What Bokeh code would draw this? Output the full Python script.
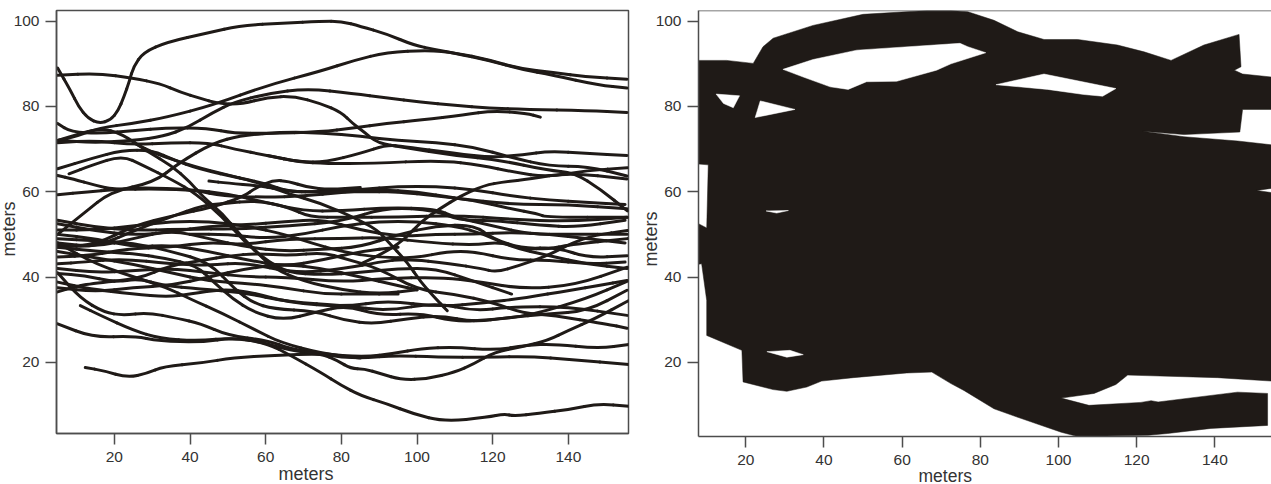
from bokeh.embed import file_html
from bokeh.resources import INLINE
from bokeh.plotting import figure
from bokeh.layouts import row
from bokeh.models import FixedTicker, Title, Span

X_TICKS = [20, 40, 60, 80, 100, 120, 140]
Y_TICKS = [20, 40, 60, 80, 100]
AXIS_TITLE = "meters"

a_x = [5,8.4,10.5,13,16,19,21,22.5,24,25,27.7,34,44.6,53.4,64.8,74.6,80,85,92,99,105,110,119,127.6,136,148,155.5]
a_y = [89,83.8,80,77.2,76,76.8,79,82.2,86,89.3,92.7,95.1,97.2,99,99.5,100,100,98.8,97,94.4,93.3,92.5,90.8,88.7,87.3,85,84.3]
b_x = [5,15.6,25,32,37.5,42.8,47.2,53.5,60.5,67.5,74.6,80,83,86,89.6,96.5,110,122,134.5,141.5,148.6,155.6]
b_y = [87.3,87.8,86.6,85.4,83.3,81.9,80.7,80.5,82.2,82.4,80.7,78.6,76,74,71.4,70.4,68.5,67.4,65,64.5,60.5,55.5]
c_x = [5,10,16,25,34,46,60.5,74.6,83.3,92,103,110,119,127,136,145,155.5]
c_y = [72,73,75,76,77.5,80.3,85,88.3,90.8,92.7,93.2,92.6,90.9,88.9,88,86.9,86.4]
d_x = [5,12,19,30.5,37,46,53.5,65,75,85,95,105,115,125,135,145,155.5]
d_y = [50,55,60,62.2,66.7,71.4,73.2,74,73.8,73,72,71.5,70.5,68,66,66,63.7]
e_x = [5,8.5,16.5,25,34,44.7,51.6,60.5,74.6,83,92,101,112.5,120,129,132.6]
e_y = [76,74,73.7,74.3,75,74.9,73.7,73.7,74,74.9,76,76.8,78,79,78.4,77.5]
f_x = [5,15,25,33,39.4,46,51.6,60.5,71,83,92,101,110,119,129,145,155.5]
f_y = [72,71.5,72,73,75,78.6,81,83,84.2,83,82,81,80.3,79.6,79.3,79,78.6]
g_x = [5,15,25,35,45,51.6,60.5,69,76,85,92,96.5,110,120,128,135,145,155.5]
g_y = [71.5,72,71,71.5,71.5,70,68.5,67,67,69,71,70.6,69,68,68.7,69.5,69,68.5]
h_x = [60.5,69,76,88,106,117,125.6,134.5,145,155.6]
h_y = [68.5,67,66.6,66.6,67.4,66.2,64.6,63.4,65,65.6]
i_x = [5,14,22,30,36,42,54,60,66,75,85,95,105,115,125,135,145,155]
i_y = [65.4,67.8,69.7,69.7,67.4,65.4,63,61.9,60,60,60.5,61.2,61.2,60.5,59,58,57.5,57]
j_x = [8,14,22,27.5,35.5,41.6,48.7,54,60,66,75,85,95,105,115,125]
j_y = [64.2,66.2,68.5,66.2,62.7,59.5,54,48.6,44,41,40.5,41,42,42,39,36]
k_x = [5,9,15,20,31,41.6,48.7,60,70,80,90,100,110,125,140,155.5]
k_y = [63.8,63,61.5,60.5,60.7,60.3,59,58.7,59,59.8,60.5,60,58.5,57,57,56]
l_x = [5,13,20,27.5,40,50,60,70,80,92,105,110,120,130,140,155.5]
l_y = [59.3,60,60.5,61,60.5,59.5,57.5,55.5,55.5,56.3,56,54,52,50,50,50]
m_x = [45,50,58,63,67,72,77,85,95]
m_y = [62.5,62,61.4,60.7,60,60,60,60,60]
n_x = [5,15,25,36,46,54,57.5,62,66,71,77,85]
n_y = [47,47.5,52,54.5,56.4,58.8,61,62.7,62.5,61,60.5,61]
o_x = [5,15,27,34.6,43.4,48.7,57.5,66,71.6,81,95,110,125,140,155.5]
o_y = [47.5,47,51.5,54,56.8,57.2,58,56.4,54,54,54,54.5,53.5,53,54]
p_x = [5,16,22,29,35,40,43.4,48.7,53,58,62,70,80,90,100]
p_y = [72,75,73.6,69.3,66.2,62.3,58.8,54.8,50.1,45.5,42,39,37,36,37]
q_x = [25,31,41.6,48.7,57.5,66,74.6,83.3,89.6,92,97.4,101,104.5,108]
q_y = [71.5,68.8,65.8,64.2,62.3,59.5,57.3,54,51,48.6,43.5,38.8,35.3,32.1]
rr_x = [85,92,97,101,106,111.5,117.7,123,130,140,155.5]
rr_y = [43,46,49,53,56,59,61.5,62.3,63,64.5,63]
i2_x = [80,95,105,115,124.8,131.8,134.5,155.6]
i2_y = [60.5,60,59,58,56,54.8,54,54]

s_x = [11,16.3,25,32,42,51.6,60.5,66.6,74.6,80,85,92,99,107.2,118.7,123,125.7,132,140.7,147.8,156]
s_y = [33.3,31,27.5,25.6,25,25.8,24.4,21.6,17.6,14.6,12.2,10.3,7.9,6.1,7.1,7.9,7.4,8,9,10.3,9.7]
t_x = [12.3,17.3,23.4,28.7,33,42.8,51.6,62.2,74.6,80,86,94,105.4,118.7,130,140.7,156]
t_y = [18.8,18,16.4,17.4,19,19.8,21.1,21.6,22,21.2,21,21.6,21.2,21.2,21.4,20.6,19.5]
u_x = [5,14.5,25,32,42.8,51.6,60,66.6,74.6,79,82.5,86,90.5,95.8,102.8,110,115,120.5,127.5,134.6,140,147,156]
u_y = [29,25.8,26.2,25,24.7,25.8,24.5,22.7,22,20.4,18.5,18.5,17.3,15.9,16.1,17.7,19.6,22.4,23.6,25.1,27.5,30.2,34.5]
v_x = [5,11,17.3,22.4,28.7,36.7,42.8,49.9,60.5,66.6,74.6,86,94,101,110,120.5,129,136,148,156]
v_y = [41,35,31.7,31,31.7,30.3,29.1,26.3,25.1,23.2,22,21.2,22.1,23.2,23.6,22.8,24,24.3,23.2,24.2]
aa_x = [5,15,26.6,33.7,39.9,48.7,57.5,63.7,75,85]
aa_y = [48,43,39.6,37.6,34.9,31.4,27.5,24.7,22,21]
m1_x = [5,14,23,35,45,54,66,80,91,104,115,122,128,135,140,155.6]
m1_y = [44.7,45,46.6,47,48.2,47.5,49,49,49.3,48,47.5,48.2,46.6,46.6,47.5,49]
m2_x = [5,12,22,35,46,54,68,81,90,97,109,117,121,127,134.5,141.5,147,155.6]
m2_y = [43.1,43.5,44.3,43.1,42.7,43.5,40.8,42,43.5,44.3,43.1,42,41.1,42.7,45,48.2,49.8,50.9]
m3_x = [5,12,20,26.6,33,42.5,54,66,81,92,105,115,125,140,155.5]
m3_y = [40.8,40.4,38.8,39.6,38,37.2,36.4,34.1,33.3,32,34,32,33,33,31]
m4_x = [5,9,13.4,26.6,34.6,43.4,50.5,57.5,66.4,75,81,90,100,110,120,128,136,150,155.5]
m4_y = [36.5,37.6,38.4,39.6,42.7,43.9,45,45.5,45,45.8,44.3,42,37,36,34,31.5,31,29,28]
m5_x = [5,13.4,25,34,40,48.7,56.6,66,81,92,106,118,128,141,148,155.5]
m5_y = [38.8,37.2,36,35.3,36,37.2,36.4,34,33,34.5,33,34,35,37,38,39.2]
m6_x = [5,15,25,33,41.6,46,51.3,56.6,64.6,73.4,81.3,90,101,110,120,130,145,155.5]
m6_y = [47,46,45.5,44.5,42.7,39,34.9,31.8,29.8,31.8,33.3,31,31.5,29.5,30,31,35,39]
m7_x = [5,15,25,35,45,52,56.6,62,73,81,88.6,97.4,106,115,124,134.6,145,155.5]
m7_y = [49,48.5,48,46,43.5,37,34,32.5,32,29.8,29,30.2,31,29.4,30.5,31.3,32,36.9]
m9_x = [5,15,25,35,45,55,65,79.8,91,106,117,128,141.5,155.6]
m9_y = [42,41,41.5,42,41,40,40,38.8,39.6,40,38.8,37.2,38,42.3]
m10_x = [5,15,25,35,45,55,65,72,79.8,90,100,108,115,125,135,145,155]
m10_y = [51,51,52,53,53,52,50,48,46,44.5,44.5,46,46,44,44,43,43.5]
m11_x = [5,15,25,35,45,55,65,75,85,95,105,115,120,128,137,145,155.5]
m11_y = [48,47,49,51,49,47,46,46.5,47,50,52,52.3,49,46.6,47,44.5,45]
m12_x = [5,15,25,37,54,66,80,92,105,111,120,133,142,155]
m12_y = [53.3,51.7,50.9,51.2,51.3,52,53,56.4,55.6,53.3,53.3,52.1,51.7,53.3]
m13_x = [5,15,25,35,45,55,65,75,85,95,105,115,125,135,145,155]
m13_y = [52.5,50.8,49.8,50.5,52,52.2,53,53.5,51,49.5,50,50,50.5,50,49,48]
m14_x = [5,15,25,35,45,55,65,75,85,95,100]
m14_y = [37.5,36.5,37.5,38,40,42,43,42,40,38,37]
m15_x = [40,50,60,70,80,90,100,110,118,125,135,145,155.5]
m15_y = [50,50,49,50,52,53,53,52,50,47,45,43,42]
m16_x = [5,15,25,35,45,55,65,75,85,95]
m16_y = [46,44.5,43,41,39,38.5,37.5,36,36,36]
m17_x = [5,15,25,35,45,55,65,75,85,95]
m17_y = [50,49,47,47.5,46,44,42.5,44,46,47]

TRACKS = [(a_x,a_y),(b_x,b_y),(c_x,c_y),(d_x,d_y),(e_x,e_y),(f_x,f_y),(g_x,g_y),(h_x,h_y),
          (i_x,i_y),(j_x,j_y),(k_x,k_y),(l_x,l_y),(m_x,m_y),(n_x,n_y),(o_x,o_y),(p_x,p_y),
          (q_x,q_y),(rr_x,rr_y),(i2_x,i2_y),(s_x,s_y),(t_x,t_y),(u_x,u_y),(v_x,v_y),(aa_x,aa_y),
          (m1_x,m1_y),(m2_x,m2_y),(m3_x,m3_y),(m4_x,m4_y),(m5_x,m5_y),(m6_x,m6_y),(m7_x,m7_y),
          (m9_x,m9_y),(m10_x,m10_y),(m11_x,m11_y),(m12_x,m12_y),(m13_x,m13_y),(m14_x,m14_y),(m15_x,m15_y),
          (m16_x,m16_y),(m17_x,m17_y)]

# right panel: outline of the covered area and the uncovered gaps inside it
cover_x = [7.9,15.1,21.9,24.4,27,37.2,50,66.4,72.5,76.8,83.5,89.6,96.3,104.9,115.1,121.9,128.8,137.2,146.2,146.7,145,147.1,154.5,
           154.5,147.1,146.4,132.1,121.5,132.1,145.8,154.5,154.5,150.7,154.5,
           154.5,140.7,117.7,114.7,109.1,100.7,107.8,121.1,123.7,125.5,145.8,153.5,153.5,139,127.9,123,104.9,100.7,89.6,83.5,75.8,72.5,
           67.6,61.2,47.5,39.4,35.6,30.5,27,19.3,19,10,10,8.7,7.9,7.9,10,10.4,7.9]
cover_y = [90.8,90.8,90.1,94,96,99,101.6,102.5,102.5,102.2,100.2,97.5,95.7,95.7,94.4,92.8,90.8,94.4,96.9,89.3,88.5,87.6,86.9,
           79.3,79.3,74,73.4,74.2,72.9,71.9,71,60.8,60.3,59.8,
           15.6,16.4,17,14.8,12.7,11.6,9.9,10.6,11,10.7,13,12.7,5.2,4.5,3.3,2.9,2.6,3.6,7.1,9.1,13.4,15,
           17.7,17.5,16.4,15.6,14.2,13.2,13.6,15.4,22.8,26.3,34.5,43.1,43,52.5,51.5,66.3,66.5]
gap1_x = [12.4,18.4,16.8,14.3]
gap1_y = [82.9,82.5,79.7,80.7]
gap2_x = [23.7,32.6,22.4]
gap2_y = [81.3,79.3,77.4]
gap3_x = [29.5,37.2,48.4,74.8,76.8,81.4,72.5,68.8,58.6,50.9,46.2,41.6,34.7]
gap3_y = [88.7,91,93.2,94.8,94,92.6,90,88.5,85.9,85.8,84,84.6,86.9]
gap4_x = [84,96.3,114.7,111.3,106.5,97.2]
gap4_y = [85.1,87.6,84.2,82.4,82.8,84]
gap5_x = [25.2,30.9,27.9]
gap5_y = [55.5,55.6,55]
gap6_x = [25.4,31.3,34.7,30.5]
gap6_y = [22.5,22.8,21.8,21.2]
GAPS = [(gap1_x,gap1_y),(gap2_x,gap2_y),(gap3_x,gap3_y),(gap4_x,gap4_y),(gap5_x,gap5_y),(gap6_x,gap6_y)]

INK = "#1f1a17"
AXC = "#4d4d4d"
TXT = "#333333"


def panel(width, height, left, top, fw, fh, xr, yr):
    p = figure(width=width, height=height, x_range=xr, y_range=yr, output_backend="svg",
               toolbar_location=None, min_border_left=left, min_border_top=top,
               min_border_right=width - left - fw, min_border_bottom=height - top - fh,
               frame_width=fw, frame_height=fh)
    p.grid.visible = False
    for ax, ticks, standoff in ((p.xaxis[0], X_TICKS, 7), (p.yaxis[0], Y_TICKS, 6)):
        ax.ticker = FixedTicker(ticks=ticks)
        ax.major_tick_out = 11
        ax.major_tick_in = 0
        ax.minor_tick_line_color = None
        ax.major_tick_line_color = AXC
        ax.major_tick_line_width = 1.5
        ax.axis_line_color = AXC
        ax.axis_line_width = 1.5
        ax.major_label_text_font = "Liberation Sans"
        ax.major_label_text_font_size = "15.5px"
        ax.major_label_text_color = TXT
        ax.major_label_standoff = standoff
    return p


def title(p, side, offset, standoff, size="18px"):
    p.add_layout(Title(text=AXIS_TITLE, align="left", offset=offset, standoff=standoff,
                       text_line_height=1.0,
                       text_font="Liberation Sans", text_font_size=size, text_font_style="normal",
                       text_color=TXT), side)


def smooth(px, py):
    """Quadratic pieces between the midpoints of the read points; the read points are the controls."""
    mx = [(a + b) / 2 for a, b in zip(px, px[1:])]
    my = [(a + b) / 2 for a, b in zip(py, py[1:])]
    x0 = [px[0]] + mx
    y0 = [py[0]] + my
    x1 = mx + [px[-1]]
    y1 = my + [py[-1]]
    return x0, y0, x1, y1, list(px), list(py)


p1 = panel(640, 484, 56, 10, 572, 423, (4.7, 155.9), (3.3, 102.5))
p1.outline_line_color = AXC
p1.outline_line_width = 1.5
for tx, ty in TRACKS:
    x0, y0, x1, y1, cx, cy = smooth(tx, ty)
    p1.quadratic(x0=x0, y0=y0, x1=x1, y1=y1, cx=cx, cy=cy, line_color=INK, line_width=3,
                 line_cap="round")
title(p1, "below", 222, -6)
title(p1, "left", 177, -17)

p2 = panel(631, 484, 58, 10, 573, 426, (7.9, 154.5), (2.6, 102.5))
p2.outline_line_color = None
p2.add_layout(Span(location=102.5, dimension="width", line_color=AXC, line_width=1.5))
p2.patch(cover_x, cover_y, fill_color=INK, line_color=INK, line_width=0.5)
for gx, gy in GAPS:
    p2.patch(gx, gy, fill_color="white", line_color="white", line_width=0.5)
title(p2, "below", 220, -7, "17.5px")
title(p2, "left", 170, -16)

open("out.html", "w").write(file_html(row(p1, p2), INLINE))
